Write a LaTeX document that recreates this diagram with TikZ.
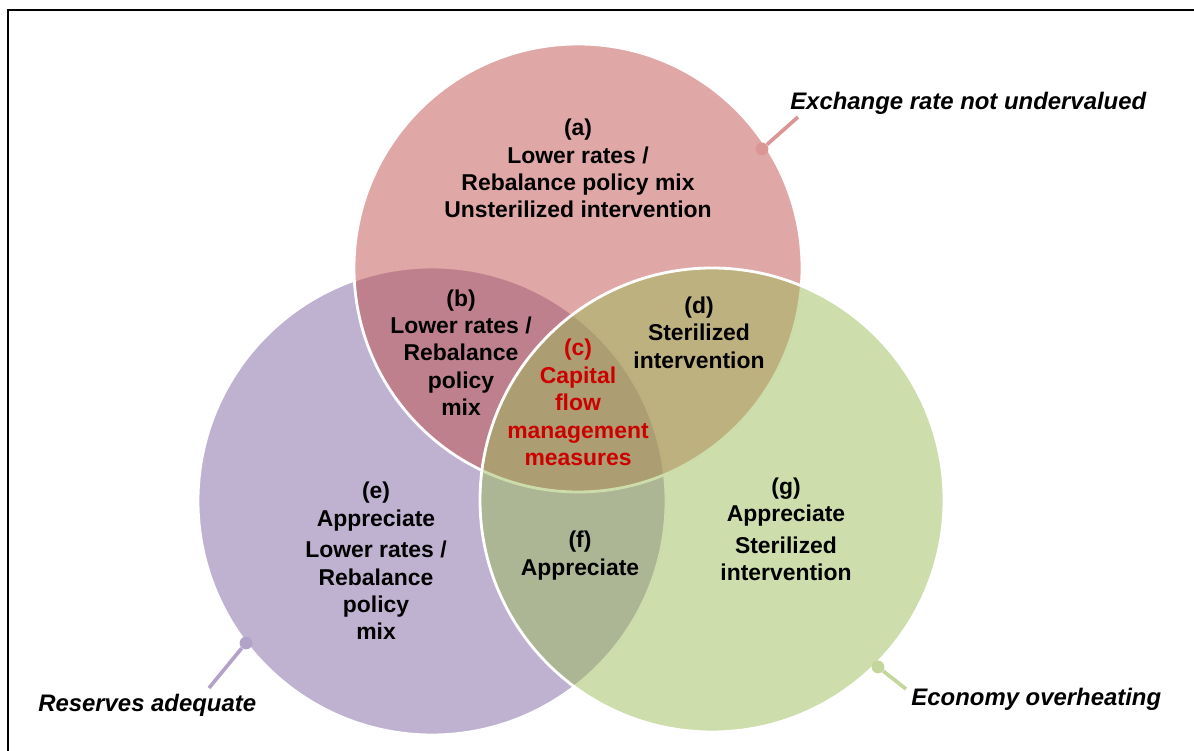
\documentclass[tikz,border=0pt]{standalone}
\usepackage{fontspec}
\setmainfont{Liberation Sans}
\usetikzlibrary{positioning}
\definecolor{setred}{HTML}{C0504D}
\definecolor{setpurple}{HTML}{8064A2}
\definecolor{setgreen}{HTML}{9BBB59}
\definecolor{flowred}{RGB}{205,0,0}

\begin{document}
\begin{tikzpicture}[setcircle/.style={circle,draw=white,line width=2pt,fill opacity=0.5,inner sep=0pt},
		textnode/.style={align=center,inner sep=0pt,font=\fontsize{16.3}{19.5}\selectfont\bfseries},
		setlabel/.style={anchor=west,inner sep=0pt,font=\fontsize{17}{20}\selectfont\bfseries\itshape},
		pindot/.style={circle,inner sep=0pt,minimum size=0.32cm},
		pinline/.style={line width=2.6pt}]
	\useasboundingbox (0,0) rectangle (29.85,18.775);
	\draw[line width=1.4pt] (0.2,-0.5) -- (0.2,18.525) -- (30.5,18.525);
	\node [setcircle,fill=setpurple,minimum size=11.7cm] (P) at (10.8, 6.25) {};
	\node [setcircle,fill=setred,minimum size=11.2cm] (R) at (14.45, 12.075) {};
	\node [setcircle,fill=setgreen,minimum size=11.6cm] (G) at (17.8, 6.275) {};
	\node [textnode] (a) at (14.45, 14.56) {(a)\\Lower rates /\\Rebalance policy mix\\Unsterilized intervention};
	\node [textnode] (b) at (11.525, 9.96) {(b)\\Lower rates /\\Rebalance\\policy\\mix};
	\node [textnode,text=flowred] (c) at (14.45, 8.71) {(c)\\Capital\\flow\\management\\measures};
	\node [textnode] (d) at (17.475, 10.46) {(d)\\Sterilized\\intervention};
	\node [textnode] (e) at (9.4, 4.75) {(e)\\Appreciate\\[3pt]Lower rates /\\Rebalance\\policy\\mix};
	\node [textnode] (f) at (14.5, 4.89) {(f)\\Appreciate};
	\node [textnode] (g) at (19.65, 5.54) {(g)\\Appreciate\\[3pt]Sterilized\\intervention};
	\node [pindot,fill=setred!60!white] (pr) at (19.05, 15.05) {};
	\node [pindot,fill=setpurple!60!white] (pp) at (6.15, 2.7) {};
	\node [pindot,fill=setgreen!60!white] (pg) at (21.95, 2.1) {};
	\coordinate (er) at (19.95, 15.85);
	\coordinate (ep) at (5.225, 1.575);
	\coordinate (eg) at (22.65, 1.55);
	\draw [pinline,setred!60!white] (pr) -- (er);
	\draw [pinline,setpurple!60!white] (pp) -- (ep);
	\draw [pinline,setgreen!60!white] (pg) -- (eg);
	\node [setlabel] (lr) at (19.75, 16.2) {Exchange rate not undervalued};
	\node [setlabel] (lp) at (0.95, 1.15) {Reserves adequate};
	\node [setlabel] (lg) at (22.78, 1.3) {Economy overheating};
\end{tikzpicture}
\end{document}
